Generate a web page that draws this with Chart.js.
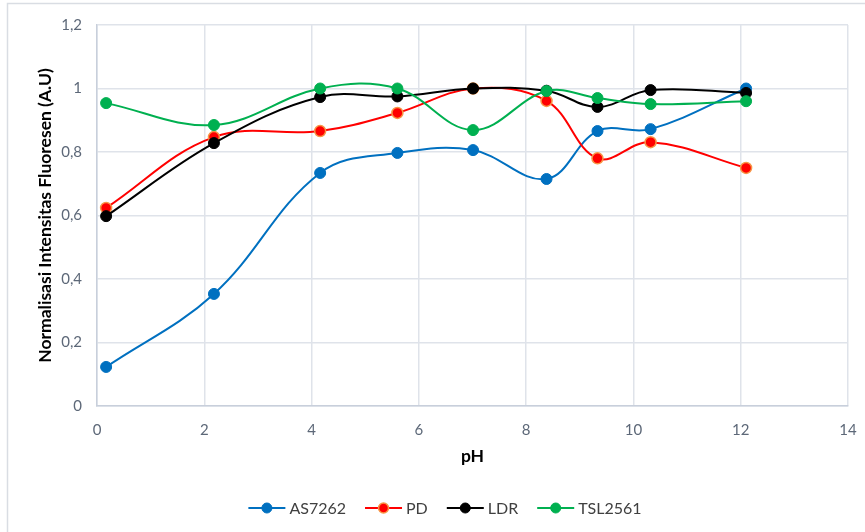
<!DOCTYPE html>
<html>
<head>
<meta charset="utf-8">
<script src="https://cdn.jsdelivr.net/npm/chart.js@4"></script>
<style>
  html, body { margin: 0; padding: 0; background: #ffffff; }
  #wrap { width: 865px; height: 532px; position: relative; }
</style>
</head>
<body>
<div id="wrap"><canvas id="c" width="865" height="532"></canvas></div>
<script>
// pH of each measurement
const pH = [0.17, 2.18, 4.16, 5.6, 7.01, 8.38, 9.33, 10.32, 12.1];

// Normalised fluorescence intensity per sensor
const as7262 = [0.123, 0.353, 0.734, 0.797, 0.806, 0.715, 0.866, 0.872, 1.0];
const pd     = [0.624, 0.847, 0.866, 0.923, 1.0, 0.961, 0.78, 0.831, 0.75];
const ldr    = [0.598, 0.828, 0.973, 0.975, 1.0, 0.993, 0.942, 0.995, 0.986];
const tsl    = [0.954, 0.885, 1.0, 1.0, 0.869, 0.992, 0.97, 0.951, 0.96];

const seriesNames = ['AS7262', 'PD', 'LDR', 'TSL2561'];
const xTicks = [0, 2, 4, 6, 8, 10, 12, 14];

const FONT = 'Lato, "Open Sans", sans-serif';
const TICK_COLOR = '#5d6878';

function pts(values) {
  return values.map((v, i) => ({ x: pH[i], y: v }));
}

const styles = [
  { line: '#0070c0', fill: '#0070c0', edge: '#0070c0' },
  { line: '#ff0000', fill: '#ff0000', edge: '#f79646' },
  { line: '#000000', fill: '#000000', edge: '#000000' },
  { line: '#00b050', fill: '#00b050', edge: '#00b050' }
];
const values = [as7262, pd, ldr, tsl];

const datasets = values.map((v, i) => ({
  label: seriesNames[i],
  data: pts(v),
  borderColor: styles[i].line,
  backgroundColor: styles[i].fill,
  pointBackgroundColor: styles[i].fill,
  pointBorderColor: styles[i].edge,
  pointBorderWidth: i === 1 ? 1.5 : 1,
  pointRadius: 5.5,
  pointHoverRadius: 5.5,
  borderWidth: 2,
  tension: 0.38,
  order: 4 - i
}));

// Outer frame and legend drawn directly on the canvas
const framePlugin = {
  id: 'frame',
  beforeDraw(chart) {
    const ctx = chart.ctx;
    ctx.save();
    ctx.fillStyle = '#ffffff';
    ctx.fillRect(0, 0, chart.width, chart.height);
    ctx.strokeStyle = '#d9dde3';
    ctx.lineWidth = 1.5;
    ctx.strokeRect(7.5, 3.5, chart.width + 20, chart.height + 20);
    ctx.restore();
  },
  afterDraw(chart) {
    const ctx = chart.ctx;
    ctx.save();
    ctx.font = '16px ' + FONT;
    const lineLen = 37, textGap = 4, itemGap = 19;
    const widths = seriesNames.map(n => ctx.measureText(n).width);
    let total = 0;
    widths.forEach((w, i) => { total += lineLen + textGap + w + (i < widths.length - 1 ? itemGap : 0); });
    let x = 445 - total / 2;
    const y = 508;
    seriesNames.forEach((name, i) => {
      const s = styles[i];
      ctx.strokeStyle = s.line;
      ctx.lineWidth = 2;
      ctx.beginPath();
      ctx.moveTo(x, y);
      ctx.lineTo(x + lineLen, y);
      ctx.stroke();
      ctx.beginPath();
      ctx.arc(x + lineLen / 2, y, 5, 0, Math.PI * 2);
      ctx.fillStyle = s.fill;
      ctx.fill();
      ctx.lineWidth = i === 1 ? 1.5 : 1;
      ctx.strokeStyle = s.edge;
      ctx.stroke();
      ctx.fillStyle = '#404040';
      ctx.textBaseline = 'middle';
      ctx.textAlign = 'left';
      ctx.fillText(name, x + lineLen + textGap, y + 1);
      x += lineLen + textGap + widths[i] + itemGap;
    });
    ctx.restore();
  }
};

new Chart(document.getElementById('c'), {
  type: 'line',
  data: { datasets },
  plugins: [framePlugin],
  options: {
    responsive: false,
    animation: false,
    devicePixelRatio: 1,
    layout: { padding: { left: 0, top: 25, right: 17, bottom: 0 } },
    plugins: {
      legend: { display: false },
      tooltip: { enabled: false }
    },
    scales: {
      x: {
        type: 'linear',
        min: 0,
        max: 14,
        afterBuildTicks(scale) { scale.ticks = xTicks.map(v => ({ value: v })); },
        afterFit(scale) { scale.height = 126; },
        grid: { color: '#dfe3ea', lineWidth: 1.5, drawTicks: true, tickLength: 12, tickColor: 'rgba(0,0,0,0)' },
        border: { color: '#c8cfdb', width: 1.5 },
        ticks: {
          color: TICK_COLOR,
          font: { family: FONT, size: 15 },
          padding: 3,
          maxRotation: 0,
          autoSkip: false
        },
        title: {
          display: true,
          text: 'pH',
          color: '#000000',
          font: { family: FONT, size: 17.5, weight: 'bold' },
          padding: { top: 0, bottom: 65 }
        }
      },
      y: {
        type: 'linear',
        min: 0,
        max: 1.2,
        afterFit(scale) { scale.width = 97; },
        grid: { color: '#dfe3ea', lineWidth: 1.5, drawTicks: true, tickLength: 12, tickColor: 'rgba(0,0,0,0)' },
        border: { color: '#c8cfdb', width: 1.5 },
        ticks: {
          stepSize: 0.2,
          color: TICK_COLOR,
          font: { family: FONT, size: 15 },
          padding: 3,
          callback: v => String(+v.toFixed(1)).replace('.', ',')
        },
        title: {
          display: true,
          text: 'Normalisasi Intensitas Fluoresen (A.U)',
          color: '#000000',
          font: { family: FONT, size: 17.5, weight: 'bold' },
          padding: { top: 35, bottom: 0 }
        }
      }
    }
  }
});
</script>
</body>
</html>
